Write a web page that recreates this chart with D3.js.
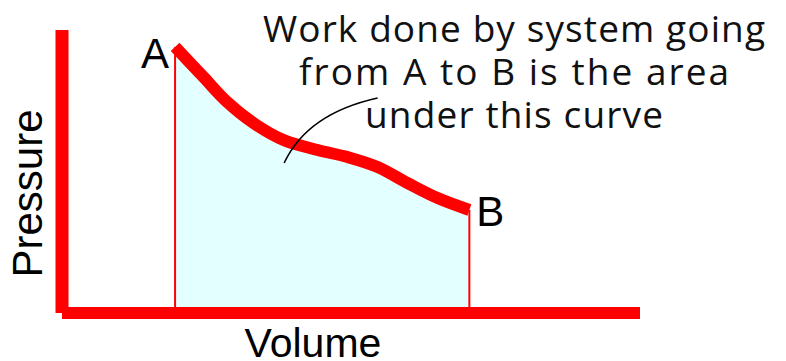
<!DOCTYPE html>
<html>
<head>
<meta charset="utf-8">
<script src="https://cdn.jsdelivr.net/npm/d3@7"></script>
<style>
  html, body { margin: 0; padding: 0; background: #fff; }
  svg { display: block; }
</style>
</head>
<body>
<div id="chart"></div>
<script>
// curve from A to B, volume / pressure in arbitrary units (0-100)
const volume = [19.6, 24.5, 28.6, 33.2, 38.4, 44.3, 49.5, 54.7, 59.9, 65.1, 70.6];
const pressure = [94.0, 83.4, 74.6, 67.1, 61.1, 57.6, 55.1, 51.6, 45.9, 40.6, 36.4];
const pointLabels = ['A', 'B'];
const axisLabels = { x: 'Volume', y: 'Pressure' };
const noteLines = ['Work done by system going', 'from A to B is the area', 'under this curve'];
// pointer from inside the area up to the note
const pointerV = [38.5, 42.5, 54.7];
const pointerP = [53.0, 70.5, 76.0];

const W = 786, H = 361;
const margin = { top: 30, right: 147, bottom: 48, left: 62 };

const svg = d3.select('#chart').append('svg')
    .attr('width', W)
    .attr('height', H);

const x = d3.scaleLinear().domain([0, 100]).range([margin.left, W - margin.right]);
const y = d3.scaleLinear().domain([0, 100]).range([H - margin.bottom, margin.top]);

const pts = volume.map((v, i) => ({ v, p: pressure[i] }));
const red = '#ff0000';

// shaded area under the curve
const area = d3.area()
    .x(d => x(d.v))
    .y0(y(0))
    .y1(d => y(d.p))
    .curve(d3.curveCatmullRom);

svg.append('path')
    .datum(pts)
    .attr('d', area)
    .attr('fill', '#e3ffff');

// thin drop lines at A and B
const ends = [pts[0], pts[pts.length - 1]];
svg.selectAll('line.drop')
    .data(ends)
    .enter().append('line')
    .attr('class', 'drop')
    .attr('x1', d => x(d.v))
    .attr('x2', d => x(d.v))
    .attr('y1', d => y(d.p))
    .attr('y2', y(0))
    .attr('stroke', red)
    .attr('stroke-width', 2);

// axes as thick red bars
svg.append('line')
    .attr('x1', x(0)).attr('x2', x(0))
    .attr('y1', y(100)).attr('y2', y(0))
    .attr('stroke', red).attr('stroke-width', 13);
svg.append('line')
    .attr('x1', x(0)).attr('x2', x(100) + 1)
    .attr('y1', y(0)).attr('y2', y(0))
    .attr('stroke', red).attr('stroke-width', 12);

// the process curve
const line = d3.line()
    .x(d => x(d.v))
    .y(d => y(d.p))
    .curve(d3.curveCatmullRom);

svg.append('path')
    .datum(pts)
    .attr('d', line)
    .attr('fill', 'none')
    .attr('stroke', red)
    .attr('stroke-width', 12);

// A / B labels
svg.append('text')
    .attr('x', x(pts[0].v) - 6)
    .attr('y', y(pts[0].p) + 21)
    .attr('text-anchor', 'end')
    .style('font', '42px "Liberation Sans", Arial, sans-serif')
    .text(pointLabels[0]);

svg.append('text')
    .attr('x', x(pts[pts.length - 1].v) + 7)
    .attr('y', y(pts[pts.length - 1].p) + 16)
    .style('font', '42px "Liberation Sans", Arial, sans-serif')
    .text(pointLabels[1]);

// axis titles
svg.append('text')
    .attr('x', 313)
    .attr('y', H - 4)
    .attr('text-anchor', 'middle')
    .style('font', '41px "Liberation Sans", Arial, sans-serif')
    .text(axisLabels.x);

svg.append('text')
    .attr('transform', `translate(42,${(y(0) + y(100)) / 2 + 22}) rotate(-90)`)
    .attr('text-anchor', 'middle')
    .style('font', '42px "Liberation Sans", Arial, sans-serif')
    .text(axisLabels.y);

// pointer
const ptr = pointerV.map((v, i) => [x(v), y(pointerP[i])]);
svg.append('path')
    .attr('d', `M${ptr[0][0]},${ptr[0][1]} Q${ptr[1][0]},${ptr[1][1]} ${ptr[2][0]},${ptr[2][1]}`)
    .attr('fill', 'none')
    .attr('stroke', '#000')
    .attr('stroke-width', 1.5);

// note
const noteWidths = [502, 430, 298];
svg.append('g')
    .selectAll('text')
    .data(noteLines)
    .enter().append('text')
    .attr('x', 514)
    .attr('y', (d, i) => 42 + i * 43)
    .attr('text-anchor', 'middle')
    .attr('textLength', (d, i) => noteWidths[i])
    .attr('lengthAdjust', 'spacing')
    .style('font', '37px "Open Sans", sans-serif')
    .style('fill', '#111')
    .text(d => d);
</script>
</body>
</html>
